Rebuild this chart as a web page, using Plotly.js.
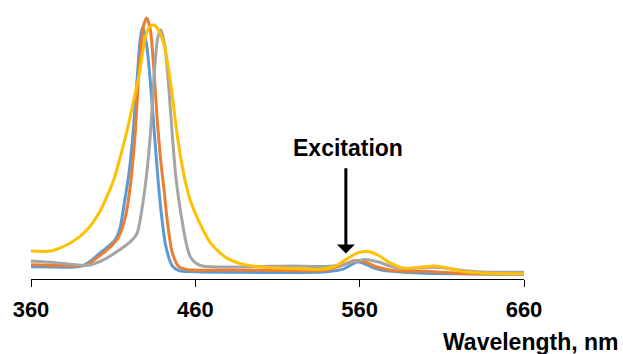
<!DOCTYPE html>
<html>
<head>
<meta charset="utf-8">
<script src="https://cdn.plot.ly/plotly-3.0.1.min.js"></script>
<style>html,body{margin:0;padding:0;background:#fff;}#chart{width:623px;height:354px;}</style>
</head>
<body>
<div id="chart"></div>
<script>
// Wavelength (nm) and normalized intensity for each series
const blueX = [360,375,385,392,398,404,408,411,414,417,419.5,422,424.6,426.5,428,430.5,432.7,434.8,436.8,438.8,441.9,446,450,460,480,500,520,540,550,558.8,563,567,575,585,600,620,640,660];
const blueY = [0.047,0.046,0.045,0.052,0.078,0.11,0.13,0.148,0.19,0.30,0.40,0.55,0.77,0.92,0.966,0.89,0.75,0.58,0.42,0.28,0.13,0.05,0.032,0.028,0.026,0.025,0.025,0.028,0.038,0.066,0.058,0.047,0.032,0.027,0.022,0.02,0.018,0.018];

const orangeX = [360,375,388,394,402,408.4,413.4,417.5,420.5,423.3,426,428.5,430.4,432.5,434.8,436.8,439,441,443,446,450,455,460,470,490,510,530,540,548.6,556.7,562.8,571,580,590,600,610,620,640,660];
const orangeY = [0.055,0.052,0.05,0.054,0.09,0.124,0.162,0.24,0.36,0.55,0.82,0.97,1.0,0.96,0.80,0.61,0.45,0.34,0.22,0.10,0.047,0.036,0.034,0.034,0.034,0.033,0.032,0.034,0.05,0.07,0.066,0.045,0.033,0.03,0.03,0.026,0.022,0.02,0.02];

const greyX = [360,374,388,396,404,412.4,420.5,424.6,428.5,430.7,432.6,434.8,437,439,441.5,443.5,446,448,450,452,454,456,458,461,465,480,500,520,540,548.6,556.7,562.8,571,581,590,597,605,613.7,623.8,638,660];
const greyY = [0.069,0.063,0.054,0.054,0.073,0.105,0.143,0.176,0.31,0.42,0.55,0.77,0.92,0.955,0.89,0.76,0.55,0.40,0.30,0.22,0.15,0.10,0.075,0.058,0.049,0.046,0.048,0.05,0.048,0.054,0.066,0.075,0.066,0.045,0.04,0.043,0.045,0.041,0.032,0.026,0.026];

const yellowX = [360,372,384,394,402,410.4,414,418.5,422,425.6,429.7,432,434.4,437,440.9,445,449,453,457,463,469,475,480,490,506,520,536,544.5,552.7,558.8,564.9,571,579,587,597,605.5,613.7,623.8,638,660];
const yellowY = [0.107,0.107,0.138,0.188,0.26,0.38,0.46,0.57,0.67,0.775,0.93,0.965,0.973,0.96,0.90,0.75,0.55,0.40,0.30,0.21,0.14,0.10,0.077,0.055,0.043,0.04,0.037,0.047,0.079,0.10,0.105,0.092,0.06,0.041,0.045,0.05,0.041,0.028,0.022,0.02];

const tickVals = [360,460,560,660];
const tickText = ['360','460','560','660'];
const xTitle = 'Wavelength, nm';
const annText = 'Excitation';
const arrowX = 551.6, arrowTipY = 0.098, arrowTailY = 0.43;
const annTextX = 553.2, annTextY = 0.502;

const mk = (x, y, c) => ({x: x, y: y, type: 'scatter', mode: 'lines',
  line: {color: c, width: 3, shape: 'spline', smoothing: 0.7}, hoverinfo: 'skip'});

const data = [
  mk(blueX, blueY, '#5B9BD5'),
  mk(orangeX, orangeY, '#ED7D31'),
  mk(greyX, greyY, '#A5A5A5'),
  mk(yellowX, yellowY, '#FFC000')
];

const fontFam = '"Liberation Sans", Arial, sans-serif';

const layout = {
  width: 623, height: 354,
  margin: {l: 31, r: 99, t: 5, b: 75},
  paper_bgcolor: '#ffffff', plot_bgcolor: '#ffffff',
  showlegend: false,
  font: {family: fontFam, color: '#000'},
  xaxis: {
    range: [360, 660], tickvals: tickVals, ticktext: tickText,
    showline: true, linecolor: '#000', linewidth: 1,
    ticks: 'outside', ticklen: 7, tickwidth: 1, tickcolor: '#000',
    ticklabelstandoff: 4,
    showgrid: false, zeroline: false,
    tickfont: {family: fontFam, size: 22, color: '#000', weight: 'bold'}
  },
  yaxis: {range: [0, 1.05], visible: false, showgrid: false, zeroline: false},
  annotations: [
    {x: arrowX, y: arrowTipY, ax: arrowX, ay: arrowTailY, axref: 'x', ayref: 'y', xref: 'x', yref: 'y',
     text: '', showarrow: true, arrowhead: 1, arrowsize: 1.0, arrowwidth: 3, arrowcolor: '#000', standoff: 0},
    {x: annTextX, y: annTextY, xref: 'x', yref: 'y', text: annText, showarrow: false,
     xanchor: 'center', yanchor: 'middle',
     font: {family: fontFam, size: 23, color: '#000', weight: 'bold'}},
    {x: 1.196, y: -0.23, xref: 'paper', yref: 'paper', text: xTitle, showarrow: false,
     xanchor: 'right', yanchor: 'middle',
     font: {family: fontFam, size: 23, color: '#000', weight: 'bold'}}
  ]
};

Plotly.newPlot('chart', data, layout, {displayModeBar: false, staticPlot: true});
</script>
</body>
</html>
